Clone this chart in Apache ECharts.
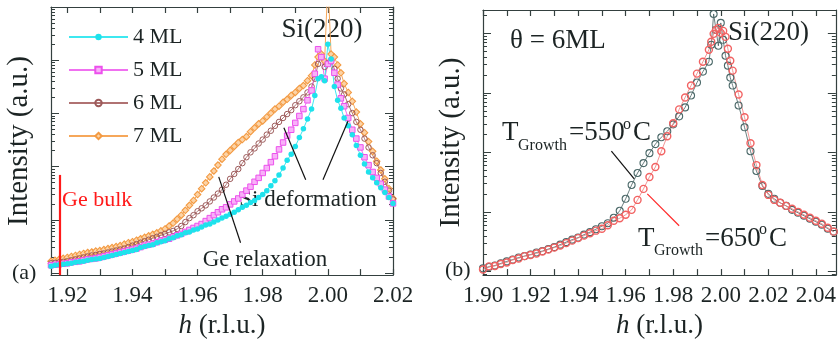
<!DOCTYPE html>
<html>
<head>
<meta charset="utf-8">
<script src="https://cdn.jsdelivr.net/npm/echarts@6/dist/echarts.min.js"></script>
<style>
html,body{margin:0;padding:0;background:#fff;}
#chart{width:839px;height:344px;}
</style>
</head>
<body>
<div id="chart"></div>
<script>
// ---------- Panel (a): h values and intensities (a.u.) ----------
const hA = [1.915,1.91625,1.9175,1.91875,1.92,1.92125,1.9225,1.92375,1.925,1.92625,1.9275,1.92875,1.93,1.93125,1.9325,1.93375,1.935,1.93625,1.9375,1.93875,1.94,1.94125,1.9425,1.94375,1.945,1.94625,1.9475,1.94875,1.95,1.95125,1.9525,1.95375,1.955,1.95625,1.9575,1.95875,1.96,1.96125,1.9625,1.96375,1.965,1.96625,1.9675,1.96875,1.97,1.97125,1.9725,1.97375,1.975,1.97625,1.9775,1.97875,1.98,1.98125,1.9825,1.98375,1.985,1.98625,1.9875,1.98875,1.99,1.99125,1.9925,1.99375,1.995,
  1.996,1.997,1.998,1.999,2.000,2.001,2.002,2.003,2.004,
  2.005,2.00625,2.0075,2.00875,2.01,2.01125,2.0125,2.01375,2.015,2.01625,2.0175,2.01875,2.02];
const ml4 = [1.346,1.405,1.435,1.466,1.497,1.529,1.596,1.630,1.665,1.737,1.812,1.851,1.891,1.973,2.059,2.148,2.241,2.339,2.440,2.546,2.657,2.772,3.018,3.149,3.286,3.428,3.732,3.894,4.063,4.424,4.616,5.025,5.243,5.707,5.955,6.483,6.764,7.364,8.017,8.365,9.108,9.916,10.80,11.75,12.79,13.93,15.49,17.23,18.75,21.30,23.19,26.34,29.92,35.47,43.87,54.25,69.99,94.23,132.4,170.8,239.9,351.6,515.4,788.3,1206,
  2185,4499,4898,4132,19900,10520,3203,1767,1258,
  822.5,585.5,399.4,250.3,163.7,111.7,79.51,61.62,49.83,40.29,32.58,26.34,20.42];
const ml5 = [1.405,1.435,1.466,1.497,1.529,1.596,1.630,1.665,1.737,1.812,1.851,1.891,1.973,2.059,2.148,2.241,2.339,2.440,2.546,2.657,2.772,2.893,3.083,3.286,3.428,3.577,3.812,4.063,4.240,4.424,4.816,5.13,5.470,5.955,6.483,7.058,7.684,8.365,9.504,10.80,12.27,13.93,15.82,17.23,19.57,22.23,25.25,29.92,35.47,42.04,51.99,61.62,76.20,94.23,121.6,156.9,211.2,284.3,382.8,494.0,665.1,895.4,1206,1767,2702,
  5565,16090,11460,4499,8511,9664,5805,3486,1923,
  1369,822.5,494.0,337.0,229.9,150.4,107.0,79.51,61.62,47.76,37.01,27.49,20.42];
const ml6 = [1.529,1.561,1.596,1.630,1.665,1.737,1.812,1.891,1.973,2.059,2.148,2.194,2.289,2.339,2.440,2.546,2.657,2.772,2.893,3.083,3.286,3.502,3.732,3.978,4.240,4.519,4.816,5.13,5.470,5.83,6.213,6.764,7.684,9.108,10.80,12.27,14.54,16.51,18.75,22.23,26.34,31.22,37.01,45.77,59.06,73.03,90.31,116.5,150.4,185.9,220.4,272.5,323.0,399.4,473.4,585.5,693.9,822.5,974.8,1155,1429,1694,2007,2482,3203,
  4499,8511,11460,7490,8877,9664,6880,4499,2942,
  2280,1491,1017,693.9,494.0,337.0,229.9,163.7,116.5,76.20,51.99,35.47,24.20];
const ml7 = [1.665,1.737,1.812,1.891,1.973,2.059,2.148,2.241,2.339,2.440,2.493,2.601,2.657,2.772,2.893,3.018,3.149,3.286,3.502,3.732,3.894,4.15,4.424,4.715,5.025,5.356,5.707,6.213,6.764,7.684,8.730,10.35,12.27,15.16,18.75,23.19,29.92,38.62,49.83,64.30,82.96,107.0,138.1,170.8,202.4,239.9,284.3,323.0,366.9,453.7,537.8,637.4,724.1,858.2,1017,1206,1369,1623,1844,2185,2482,2942,3342,4132,5112,
  8153,11460,13020,9664,300000,13020,11460,8153,5805,
  3638,2482,1694,1061,637.4,434.8,296.7,194.0,126.9,86.56,59.06,38.62,25.25];
const namesA = ['4 ML','5 ML','6 ML','7 ML'];
const geBulkH = 1.9177;
const geBulkTop = 70;

// ---------- Panel (b): h values and intensities (a.u.) ----------
const hB = [1.9,1.9025,1.905,1.9075,1.91,1.9125,1.915,1.9175,1.92,1.9225,1.925,1.9275,1.93,1.9325,1.935,1.9375,1.94,1.9425,1.945,1.9475,1.95,1.9525,1.955,1.9575,1.96,1.9625,1.965,1.9675,1.97,1.9725,1.975,1.9775,1.98,1.9825,1.985,1.9875,1.99,1.9925,1.995,1.996,1.997,1.998,1.999,2.000,2.001,2.002,2.003,2.004,2.005,2.0075,2.01,2.0125,2.015,2.0175,2.02,2.0225,2.025,2.0275,2.03,2.0325,2.035,2.0375,2.04,2.0425,2.045,2.0475];
const t550 = [1.14,1.20,1.27,1.38,1.49,1.60,1.73,1.83,1.94,2.10,2.22,2.40,2.59,2.85,3.14,3.45,3.73,4.19,4.61,5.17,5.80,6.51,8.04,10.5,16.7,28.5,45.2,66.3,97.3,138,180,226,296,403,569,902,1485,2265,3325,6383,20977,11350,6142,14855,7731,4186,2851,1799,1323,614,264,105,48.8,27.4,20.2,16.7,14.3,12.7,10.9,9.73,8.68,7.73,6.89,6.14,5.27,4.70];
const t650 = [1.09,1.23,1.25,1.35,1.43,1.57,1.67,1.83,1.91,2.02,2.18,2.35,2.54,2.74,3.02,3.32,3.66,4.03,4.43,4.88,5.27,6.03,7.16,7.88,9.02,10.9,16.0,24.5,38.8,56.9,105,187,308,527,835,1323,2097,3325,5270,7161,9734,11350,12254,10115,10921,8677,5474,3454,2353,937,388,143,61.4,28.5,19.4,16.0,14.3,12.7,11.35,10.1,9.02,8.04,7.16,6.38,5.47,4.70];
const namesB = ['TGrowth=550°C','TGrowth=650°C'];

// ---------- Axis ticks / labels ----------
const labelsA = [1.92,1.94,1.96,1.98,2.00,2.02];
const ticksA = [1.92,1.93,1.94,1.95,1.96,1.97,1.98,1.99,2.00,2.01,2.02];
const labelsB = [1.90,1.92,1.94,1.96,1.98,2.00,2.02,2.04];
const ticksB = [1.90,1.91,1.92,1.93,1.94,1.95,1.96,1.97,1.98,1.99,2.00,2.01,2.02,2.03,2.04];
const decadesA = [1,10,100,1000,10000,100000];
const decadesB = [1,10,100,1000,10000];
const mantissas = [2,3,4,5,6,7,8,9];

function minorOf(decs){ const out=[]; decs.forEach(d=>mantissas.forEach(m=>out.push(m*d))); return out; }
const minorA = minorOf([1,10,100,1000,10000]);
const minorB = minorOf([0.1,1,10,100,1000,10000]).filter(v=>v>0.88 && v<24400);

const SERIF = 'Liberation Serif';
const INK = '#1c2424';
const AXC = '#34403f';

function pairs(xs, ys){ return xs.map((x,i)=>[x, ys[i]]); }

function xAx(grid, pos, min, max, labels, ticks, named){
  return {
    type:'value', gridIndex:grid, position:pos, min:min, max:max,
    axisLine:{show:true, onZero:false, lineStyle:{color:AXC, width:1.2}},
    splitLine:{show:false},
    axisTick:{show:true, inside:true, length:6, customValues:ticks, lineStyle:{color:AXC, width:1.2}},
    axisLabel:{show:named, customValues:labels, margin:9, formatter:v=>Number(v).toFixed(2),
      fontFamily:SERIF, fontSize:23, color:INK},
    name: named ? '{i|h} (r.l.u.)' : '',
    nameLocation:'middle', nameGap:33,
    nameTextStyle:{fontFamily:SERIF, fontSize:27, color:INK,
      rich:{i:{fontFamily:SERIF, fontStyle:'italic', fontSize:27, color:INK}}}
  };
}
function yAx(grid, pos, min, max, ticks, len, line, named){
  return {
    type:'log', logBase:10, gridIndex:grid, position:pos, min:min, max:max,
    axisLine:{show:line, onZero:false, lineStyle:{color:AXC, width:1.2}},
    splitLine:{show:false}, minorTick:{show:false},
    axisTick:{show:true, inside:true, length:len, customValues:ticks, lineStyle:{color:AXC, width:1}},
    axisLabel:{show:false},
    name: named ? 'Intensity (a.u.)' : '',
    nameLocation:'middle', nameGap:17,
    nameTextStyle:{fontFamily:SERIF, fontSize:29, color:INK}
  };
}

const arrowStyle = {color:'#111', width:1.2, type:'solid'};

const chart = echarts.init(document.getElementById('chart'), null, {renderer:'canvas'});
const option = {
  animation:false,
  backgroundColor:'#ffffff',
  grid:[
    {left:51, right:446, top:7, bottom:64},
    {left:483, right:2, top:10, bottom:67}
  ],
  legend:{
    data:namesA, orient:'vertical', left:63, top:20,
    itemWidth:59, itemHeight:8, itemGap:9,
    textStyle:{fontFamily:SERIF, fontSize:22, lineHeight:24, color:INK}
  },
  xAxis:[
    xAx(0,'bottom',1.915,2.02,labelsA,ticksA,true),
    xAx(0,'top',1.915,2.02,labelsA,ticksA,false),
    xAx(1,'bottom',1.90,2.0484,labelsB,ticksB,true),
    xAx(1,'top',1.90,2.0484,labelsB,ticksB,false)
  ],
  yAxis:[
    yAx(0,'left',0.918,100000,decadesA,8,true,true),
    yAx(0,'left',0.918,100000,minorA,4,false,false),
    yAx(0,'right',0.918,100000,decadesA,8,true,false),
    yAx(0,'right',0.918,100000,minorA,4,false,false),
    yAx(1,'left',0.878,24450,decadesB,8,true,true),
    yAx(1,'left',0.878,24450,minorB,4,false,false),
    yAx(1,'right',0.878,24450,decadesB,8,true,false),
    yAx(1,'right',0.878,24450,minorB,4,false,false)
  ],
  series:[
    {name:'7 ML', type:'line', xAxisIndex:0, yAxisIndex:0, data:pairs(hA,ml7), clip:true,
      symbol:'diamond', symbolSize:6.5, lineStyle:{color:'#f6a75a', width:1},
      itemStyle:{color:'#fcd3a6', borderColor:'#f39a42', borderWidth:1.1}},
    {name:'6 ML', type:'line', xAxisIndex:0, yAxisIndex:0, data:pairs(hA,ml6), clip:true,
      symbol:'circle', symbolSize:5.5, lineStyle:{color:'#b07272', width:1},
      itemStyle:{color:'rgba(255,255,255,0)', borderColor:'#9c5a5a', borderWidth:1}},
    {name:'5 ML', type:'line', xAxisIndex:0, yAxisIndex:0, data:pairs(hA,ml5), clip:true,
      symbol:'rect', symbolSize:5.5, lineStyle:{color:'#f070f0', width:1},
      itemStyle:{color:'#f8b0f8', borderColor:'#ec50ec', borderWidth:1}},
    {name:'4 ML', type:'line', xAxisIndex:0, yAxisIndex:0, data:pairs(hA,ml4), clip:true,
      symbol:'circle', symbolSize:5.5, lineStyle:{color:'#3ee8f0', width:1},
      itemStyle:{color:'#1ee2ec'},
      markLine:{silent:true, animation:false, symbol:['none','arrow'], symbolSize:[0,8], label:{show:false},
        lineStyle:arrowStyle,
        data:[
          [{coord:[1.9732,3.73]},{coord:[1.9665,64.3]}],
          [{coord:[1.9932,56.6]},{coord:[1.9865,538]}],
          [{coord:[1.9985,56.6]},{coord:[2.0062,724]}],
          [{coord:[geBulkH,0.918], symbol:'none', lineStyle:{color:'#ff1a1a', width:2.2}},
           {coord:[geBulkH,geBulkTop], symbol:'none'}]
        ]}},
    {name:namesB[0], type:'line', xAxisIndex:2, yAxisIndex:4, data:pairs(hB,t550), clip:true,
      symbol:'circle', symbolSize:7, lineStyle:{color:'#46605f', width:0.8},
      itemStyle:{color:'rgba(255,255,255,0)', borderColor:'#4a6868', borderWidth:1.1}},
    {name:namesB[1], type:'line', xAxisIndex:2, yAxisIndex:4, data:pairs(hB,t650), clip:true,
      symbol:'circle', symbolSize:7, lineStyle:{color:'#f07a7a', width:0.8},
      itemStyle:{color:'rgba(255,255,255,0)', borderColor:'#f26262', borderWidth:1.4},
      markLine:{silent:true, animation:false, symbol:['none','arrow'], symbolSize:[0,8], label:{show:false},
        data:[
          [{coord:[1.954,105], lineStyle:{color:'#111', width:1.2, type:'solid'}},{coord:[1.9636,35.9]}],
          [{coord:[1.9825,5.91], lineStyle:{color:'#ff2a2a', width:1.2, type:'solid'}},{coord:[1.9691,20.2]}]
        ]}}
  ],
  graphic:[
    {type:'text', x:322, y:30, style:{text:'Si(220)', font:'27px "Liberation Serif"', fill:INK, align:'center', verticalAlign:'middle'}},
    {type:'text', x:308, y:200, style:{text:'Si deformation', font:'23px "Liberation Serif"', fill:INK, align:'center', verticalAlign:'middle'}},
    {type:'text', x:265, y:260, style:{text:'Ge relaxation', font:'23px "Liberation Serif"', fill:INK, align:'center', verticalAlign:'middle'}},
    {type:'text', x:62, y:200, style:{text:'Ge bulk', font:'22px "Liberation Serif"', fill:'#ff1a1a', align:'left', verticalAlign:'middle'}},
    {type:'text', x:12, y:273, style:{text:'(a)', font:'22px "Liberation Serif"', fill:INK, align:'left', verticalAlign:'middle'}},
    {type:'text', x:510, y:41, style:{text:'θ = 6ML', font:'27px "Liberation Serif"', fill:INK, align:'left', verticalAlign:'middle'}},
    {type:'text', x:728, y:33, style:{text:'Si(220)', font:'27px "Liberation Serif"', fill:INK, align:'left', verticalAlign:'middle'}},
    {type:'text', x:445, y:270, style:{text:'(b)', font:'22px "Liberation Serif"', fill:INK, align:'left', verticalAlign:'middle'}},
    // T_Growth = 550 °C
    {type:'text', x:502, y:133, style:{text:'T', font:'27px "Liberation Serif"', fill:INK, align:'left', verticalAlign:'middle'}},
    {type:'text', x:518, y:146, style:{text:'Growth', font:'16px "Liberation Serif"', fill:INK, align:'left', verticalAlign:'middle'}},
    {type:'text', x:569, y:133, style:{text:'=550', font:'27px "Liberation Serif"', fill:INK, align:'left', verticalAlign:'middle'}},
    {type:'text', x:623, y:125, style:{text:'o', font:'16px "Liberation Serif"', fill:INK, align:'left', verticalAlign:'middle'}},
    {type:'text', x:633, y:133, style:{text:'C', font:'27px "Liberation Serif"', fill:INK, align:'left', verticalAlign:'middle'}},
    // T_Growth = 650 °C
    {type:'text', x:638, y:239, style:{text:'T', font:'27px "Liberation Serif"', fill:INK, align:'left', verticalAlign:'middle'}},
    {type:'text', x:654, y:251, style:{text:'Growth', font:'16px "Liberation Serif"', fill:INK, align:'left', verticalAlign:'middle'}},
    {type:'text', x:705, y:239, style:{text:'=650', font:'27px "Liberation Serif"', fill:INK, align:'left', verticalAlign:'middle'}},
    {type:'text', x:759, y:230, style:{text:'o', font:'16px "Liberation Serif"', fill:INK, align:'left', verticalAlign:'middle'}},
    {type:'text', x:769, y:239, style:{text:'C', font:'27px "Liberation Serif"', fill:INK, align:'left', verticalAlign:'middle'}}
  ]
};
chart.setOption(option);
</script>
</body>
</html>
